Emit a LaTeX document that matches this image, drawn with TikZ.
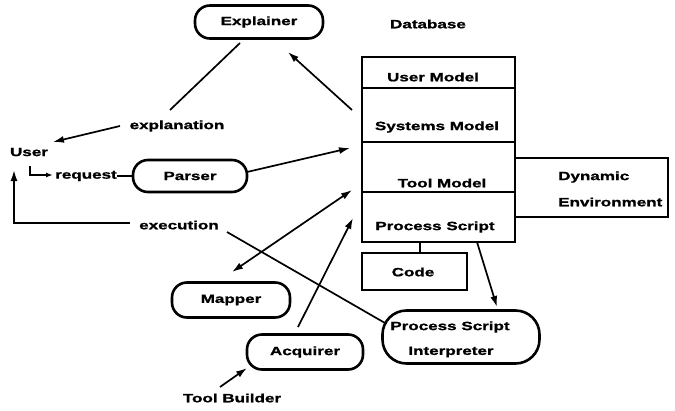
\documentclass[tikz,border=0pt]{standalone}
\usepackage{fontspec}
\newfontfamily\lab{Liberation Sans}[UprightFont=* Bold, FakeStretch=1.42, FakeBold=1.2]
\usetikzlibrary{arrows.meta}
\tikzset{
  txt/.style={inner sep=0pt, font=\lab\fontsize{12}{14}\selectfont},
  pill/.style={draw, line width=2.6pt, rounded corners=15pt, txt},
  sq/.style={draw, line width=2.6pt},
  conn/.style={line width=1.7pt},
  arr/.style={conn, -{Latex[length=11pt,width=7pt]}},
  darr/.style={conn, {Latex[length=11pt,width=7pt]}-{Latex[length=11pt,width=7pt]}},
}
\begin{document}
\begin{tikzpicture}[x=1pt,y=-1pt]
\useasboundingbox (0,0) rectangle (675,410);
% rounded boxes
\node[pill, minimum width=128pt, minimum height=33pt] (expl) at (259,22) {Explainer};
\node[pill, minimum width=114pt, minimum height=32pt] (pars) at (190,176) {Parser};
\node[pill, minimum width=118pt, minimum height=35pt] (mapp) at (231,300) {Mapper};
\node[pill, minimum width=116pt, minimum height=35pt] (acq) at (305,352) {Acquirer};
\node[pill, minimum width=157pt, minimum height=53pt, rounded corners=24pt] (psi) at (461,337) {};
\node[txt] (psi1) at (450,327) {Process Script};
\node[txt] (psi2) at (451,352) {Interpreter};
% database
\node[txt] (dbl) at (428,24) {Database};
\draw[sq] (362,57) rectangle (515,242);
\draw[sq] (362,88) -- (515,88) (362,142) -- (515,142) (362,192) -- (515,192);
\node[txt] (um) at (433,77) {User Model};
\node[txt] (sm) at (437,127) {Systems Model};
\node[txt] (tm) at (442,183) {Tool Model};
\node[txt] (ps) at (435,227) {Process Script};
\coordinate (psb) at (420,242);
\coordinate (psb2) at (477,242);
\node[sq, minimum width=105pt, minimum height=37pt] (code) at (414.5,271.5) {};
\node[txt] (codet) at (413,272) {Code};
\draw[sq] (515,158) -- (668,158) -- (668,217) -- (515,217);
\node[txt, anchor=west] (dyn) at (558,177) {Dynamic};
\node[txt, anchor=west] (env) at (558,202) {Environment};
% left labels
\node[txt] (user) at (29,152) {User};
\node[txt] (req) at (86,176) {request};
\node[txt] (explt) at (177,126) {explanation};
\node[txt] (exec) at (179,225) {execution};
\node[txt] (tb) at (232,398) {Tool Builder};
% coordinates
\coordinate (e1) at (240,43);
\coordinate (e2) at (170,110);
\coordinate (x1) at (120,126);
\coordinate (x2) at (53,142);
\coordinate (dbE) at (352,110);
\coordinate (eTip) at (288,52);
\coordinate (pS) at (247,172);
\coordinate (pT) at (350,148);
\coordinate (mA) at (352,190);
\coordinate (mB) at (232,272);
\coordinate (aS) at (298,327);
\coordinate (aT) at (353,218);
\coordinate (tbS) at (220,387);
\coordinate (tbT) at (247,368);
\coordinate (psiT) at (497,307);
\coordinate (exS) at (227,232);
\coordinate (exT) at (385,323);
\coordinate (exL) at (130,223);
\coordinate (uT) at (14,170);
\coordinate (r1) at (30,166);
\coordinate (r2) at (53,175);
\coordinate (d1) at (117,176);
% connectors
\draw[conn] (e1) -- (e2);
\draw[arr] (x1) -- (x2);
\draw[arr] (dbE) -- (eTip);
\draw[arr] (pS) -- (pT);
\draw[darr] (mA) -- (mB);
\draw[arr] (aS) -- (aT);
\draw[arr] (tbS) -- (tbT);
\draw[sq, line width=1.7pt] (psb) -- (code.north -| psb);
\draw[arr] (psb2) -- (psiT);
\draw[conn] (exS) -- (exT);
\draw[arr] (exL) -- (14,223) -- (uT);
\draw[conn, -{Latex[length=7pt,width=5pt]}] (r1) |- (r2);
\draw[conn] (d1) -- (pars.west);
\end{tikzpicture}
\end{document}
